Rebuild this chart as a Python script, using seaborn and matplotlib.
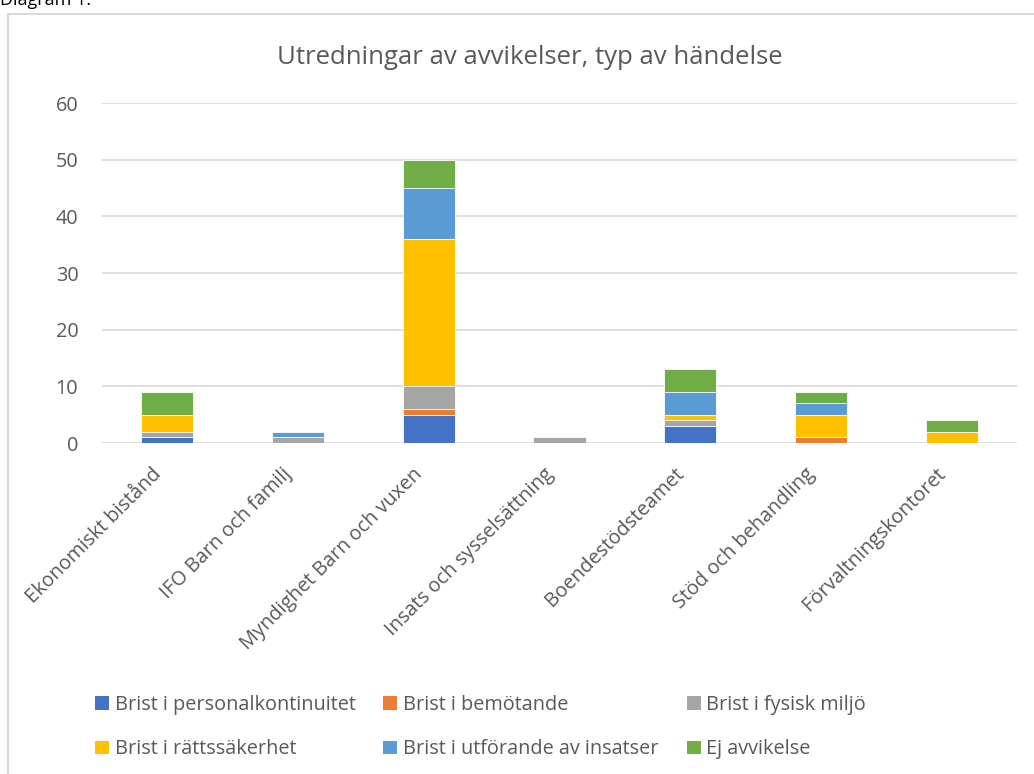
import pandas as pd
import matplotlib.pyplot as plt
import matplotlib.transforms as mtransforms
import seaborn as sns
from matplotlib.patches import Rectangle, Patch

# Data
units = ['Ekonomiskt bistånd', 'IFO Barn och familj', 'Myndighet Barn och vuxen',
         'Insats och sysselsättning', 'Boendestödsteamet', 'Stöd och behandling',
         'Förvaltningskontoret']
series = ['Brist i personalkontinuitet', 'Brist i bemötande', 'Brist i fysisk miljö',
          'Brist i rättssäkerhet', 'Brist i utförande av insatser', 'Ej avvikelse']
personal = [1, 0, 5, 0, 3, 0, 0]
bemotande = [0, 0, 1, 0, 0, 1, 0]
fysisk = [1, 1, 4, 1, 1, 0, 0]
rattssakerhet = [3, 0, 26, 0, 1, 4, 2]
utforande = [0, 1, 9, 0, 4, 2, 0]
ej_avvikelse = [4, 0, 5, 0, 4, 2, 2]
colors = ['#4472C4', '#ED7D31', '#A5A5A5', '#FFC000', '#5B9BD5', '#70AD47']

df = pd.DataFrame({'unit': units})
for name, vals in zip(series, [personal, bemotande, fysisk, rattssakerhet, utforande, ej_avvikelse]):
    df[name] = vals
cum = df[series].cumsum(axis=1)

plt.rcParams['font.family'] = ['Open Sans', 'DejaVu Sans']
text_col = '#595959'
fs = 14.3

fig = plt.figure(figsize=(10.34, 7.74), dpi=100)
ax = fig.add_axes([0.0986, 0.4276, 0.885, 0.4393])

# stacked bars: draw cumulative totals from the top layer down
for name, col in reversed(list(zip(series, colors))):
    sns.barplot(x=df['unit'], y=cum[name], color=col, width=0.4, ax=ax,
                edgecolor='white', linewidth=0.6, saturation=1)

ax.set_ylim(0, 60)
ax.set_yticks(range(0, 61, 10))
ax.set_xlim(-0.5, len(units) - 0.5)
ax.set_xlabel('')
ax.set_ylabel('')
ax.grid(axis='y', color='#D9D9D9', linewidth=1.2)
ax.set_axisbelow(True)
for s in ax.spines.values():
    s.set_visible(False)
ax.tick_params(axis='both', length=0, labelsize=fs, labelcolor=text_col)
ax.tick_params(axis='y', pad=17)
ax.tick_params(axis='x', pad=15)
ax.set_xticks(range(len(units)))
ax.set_xticklabels(units, rotation=45, ha='right', va='top', rotation_mode='anchor')
shift = mtransforms.ScaledTranslation(-16 / 100, 0, fig.dpi_scale_trans)
for lab in ax.get_xticklabels():
    lab.set_transform(lab.get_transform() + shift)

fig.text(0.512, 0.926, 'Utredningar av avvikelser, typ av händelse',
         ha='center', va='center', fontsize=18.5, color=text_col)

# outer chart frame and cut-off caption
fig.patches.append(Rectangle((8 / 1034, -0.01), 1.1, 1 - 14 / 774 + 0.01,
                             transform=fig.transFigure, fill=False,
                             edgecolor='#D9D9D9', linewidth=1.5))
fig.text(0.0, 1.0, 'Diagram 1.', ha='left', va='center', fontsize=13, color='black')

handles = [Patch(facecolor=c, label=n) for n, c in zip(series, colors)]
order = [0, 3, 1, 4, 2, 5]
fig.legend([handles[i] for i in order], [series[i] for i in order], ncol=3,
           loc='center left', bbox_to_anchor=(85 / 1034, 1 - 727 / 774), frameon=False,
           borderpad=0, fontsize=fs, labelcolor=text_col, handlelength=0.7,
           handleheight=0.7, handletextpad=0.3, columnspacing=1.4, labelspacing=1.25)

fig.savefig('out.png', dpi=100)
